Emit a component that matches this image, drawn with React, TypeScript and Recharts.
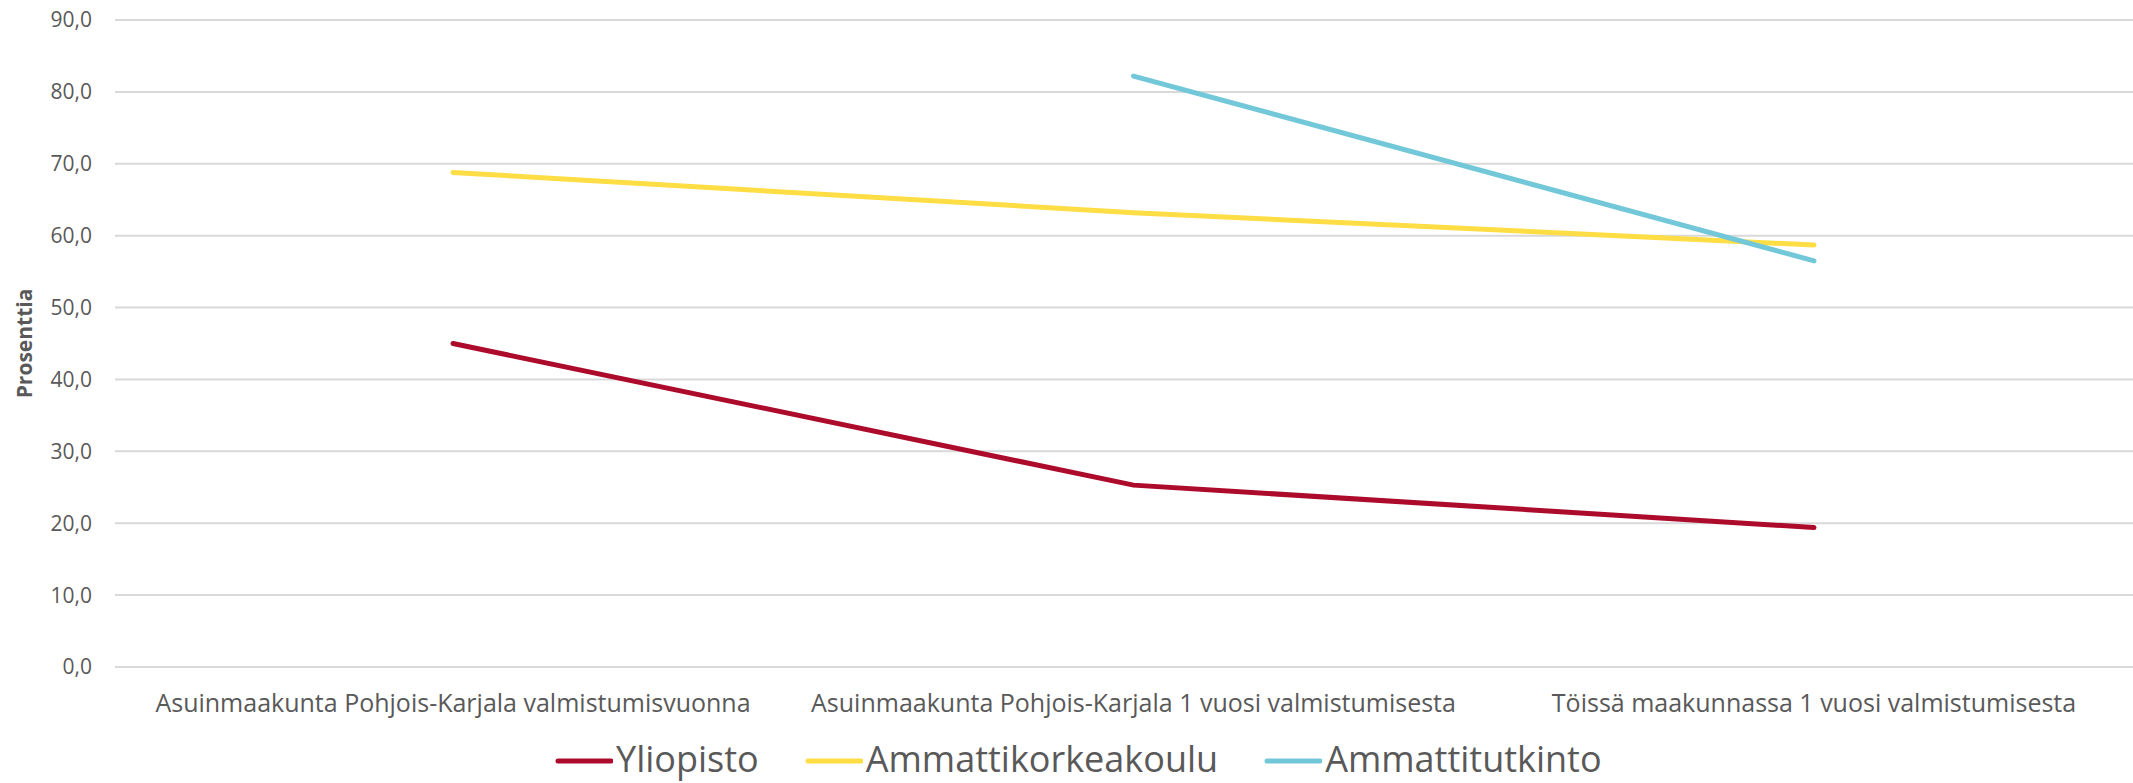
import { LineChart, Line, XAxis, YAxis, CartesianGrid, Legend } from 'recharts';

const categories = [
  'Asuinmaakunta Pohjois-Karjala valmistumisvuonna',
  'Asuinmaakunta Pohjois-Karjala 1  vuosi valmistumisesta',
  'Töissä maakunnassa 1 vuosi valmistumisesta',
];
const yliopisto = [45.0, 25.3, 19.4];
const ammattikorkeakoulu = [68.8, 63.2, 58.7];
const ammattitutkinto = [null, 82.2, 56.5];
const yTicks = [0, 10, 20, 30, 40, 50, 60, 70, 80, 90];

const series = [
  { key: 'Yliopisto', color: '#AD0B2C' },
  { key: 'Ammattikorkeakoulu', color: '#FFDD44' },
  { key: 'Ammattitutkinto', color: '#72C8D9' },
];

const data = categories.map((name, i) => ({
  name,
  Yliopisto: yliopisto[i],
  Ammattikorkeakoulu: ammattikorkeakoulu[i],
  Ammattitutkinto: ammattitutkinto[i],
}));

const FONT = "'Open Sans', sans-serif";
const GREY = '#595959';

function LegendContent() {
  return (
    <div style={{ display: 'flex', alignItems: 'center', paddingLeft: 555, fontFamily: FONT, height: 38 }}>
      {series.map((s) => (
        <div key={s.key} style={{ display: 'flex', alignItems: 'center', marginRight: 46 }}>
          <svg width={58} height={10} style={{ marginTop: 4 }}>
            <line x1={3} y1={5} x2={56} y2={5} stroke={s.color} strokeWidth={5} strokeLinecap="round" />
          </svg>
          <span style={{ fontSize: 36, color: GREY, marginLeft: 3, lineHeight: '38px' }}>{s.key}</span>
        </div>
      ))}
    </div>
  );
}

export default function App() {
  return (
    <div style={{ position: 'fixed', left: 0, top: 0, width: 2133, height: 783, overflow: 'hidden', background: '#fff' }}>
      <LineChart width={2133} height={783} data={data} margin={{ top: 20, right: 0, left: 0, bottom: 18 }}>
        <CartesianGrid vertical={false} stroke="#D9D9D9" strokeWidth={2} />
        <XAxis
          dataKey="name"
          axisLine={false}
          tickLine={false}
          tickSize={0}
          tickMargin={27}
          height={60}
          interval={0}
          padding={{ left: 338, right: 319 }}
          tick={{ fill: GREY, fontSize: 25, fontFamily: FONT, style: { whiteSpace: 'pre' } }}
        />
        <YAxis
          width={115}
          domain={[0, 90]}
          ticks={yTicks}
          axisLine={false}
          tickLine={false}
          tickSize={0}
          tickMargin={23}
          tickFormatter={(v: number) => v.toFixed(1).replace('.', ',')}
          tick={{ fill: GREY, fontSize: 21, fontFamily: FONT }}
          label={{
            value: 'Prosenttia',
            angle: -90,
            position: 'insideLeft',
            offset: 25,
            style: { fill: GREY, fontSize: 21, fontWeight: 700, fontFamily: FONT, textAnchor: 'middle' },
          }}
        />
        <Legend verticalAlign="bottom" wrapperStyle={{ left: 0, top: 740, width: 2133 }} content={<LegendContent />} />
        {series.map((s) => (
          <Line
            key={s.key}
            dataKey={s.key}
            stroke={s.color}
            strokeWidth={5}
            strokeLinecap="round"
            dot={false}
            activeDot={false}
            connectNulls={false}
            isAnimationActive={false}
          />
        ))}
      </LineChart>
    </div>
  );
}
